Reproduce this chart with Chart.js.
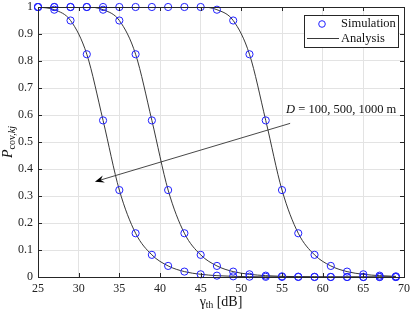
<!DOCTYPE html>
<html>
<head>
<meta charset="utf-8">
<script src="https://cdn.jsdelivr.net/npm/chart.js@4.4.1/dist/chart.umd.min.js"></script>
<style>
  html, body { margin: 0; padding: 0; background: #fff; }
  #wrap { width: 415px; height: 312px; }
</style>
</head>
<body>
<div id="wrap"><canvas id="grafica"></canvas></div>
<script>
// threshold in dB (marker positions)
const gammaDb = [25, 27, 29, 31, 33, 35, 37, 39, 41, 43, 45, 47, 49, 51, 53, 55, 57, 59, 61, 63, 65, 67, 69];

// coverage probability, D = 100 m
const p100 = [1.000, 0.990, 0.950, 0.825, 0.580, 0.322, 0.162, 0.082, 0.041, 0.020, 0.010, 0.005,
  0.0025, 0.0012, 0.0006, 0.0003, 0.0001, 0, 0, 0, 0, 0, 0];
// D = 500 m
const p500 = [1, 1, 1, 1, 0.990, 0.950, 0.825, 0.580, 0.322, 0.162, 0.082, 0.041,
  0.020, 0.010, 0.005, 0.0025, 0.0012, 0.0006, 0.0003, 0.0001, 0, 0, 0];
// D = 1000 m
const p1000 = [1, 1, 1, 1, 1, 1, 1, 1, 1, 1, 1, 0.990,
  0.950, 0.825, 0.580, 0.322, 0.162, 0.082, 0.041, 0.020, 0.010, 0.005, 0.0025];

const xTicks = [25, 30, 35, 40, 45, 50, 55, 60, 65, 70];
const yTicks = [0, 0.1, 0.2, 0.3, 0.4, 0.5, 0.6, 0.7, 0.8, 0.9, 1];

const legendLabels = ["Simulation", "Analysis"];
const noteText = "D = 100, 500, 1000 m";
// arrow, in data units: from -> to
const arrowFrom = [56.0, 0.569];
const arrowTo = [32.0, 0.353];

const serif = '"Liberation Serif", "DejaVu Serif", serif';
const blue = '#2020ff';

function pts(ys) {
  return gammaDb.map((x, i) => ({ x: x, y: ys[i] }));
}

function simSet(ys) {
  return {
    label: legendLabels[0],
    data: pts(ys),
    showLine: false,
    pointStyle: 'circle',
    pointRadius: 3.6,
    pointBorderWidth: 1,
    pointBorderColor: blue,
    pointBackgroundColor: 'rgba(0,0,0,0)',
    borderColor: blue,
    clip: 6,
    order: 0
  };
}

function anaSet(ys) {
  return {
    label: legendLabels[1],
    data: pts(ys),
    borderColor: '#222',
    borderWidth: 0.9,
    pointRadius: 0,
    cubicInterpolationMode: 'monotone',
    fill: false,
    order: 1
  };
}

// box, inside ticks, labels, legend and arrow
const extras = {
  id: 'extras',
  afterDraw(chart) {
    const ctx = chart.ctx;
    const a = chart.chartArea;
    const sx = chart.scales.x, sy = chart.scales.y;
    ctx.save();

    // ticks inside on all four sides
    ctx.strokeStyle = '#262626';
    ctx.lineWidth = 1;
    ctx.beginPath();
    xTicks.forEach(v => {
      const px = Math.round(sx.getPixelForValue(v)) + 0.5;
      ctx.moveTo(px, a.bottom); ctx.lineTo(px, a.bottom - 4);
      ctx.moveTo(px, a.top); ctx.lineTo(px, a.top + 4);
    });
    yTicks.forEach(v => {
      const py = Math.round(sy.getPixelForValue(v)) + 0.5;
      ctx.moveTo(a.left, py); ctx.lineTo(a.left + 4, py);
      ctx.moveTo(a.right, py); ctx.lineTo(a.right - 4, py);
    });
    ctx.stroke();

    // box
    ctx.strokeStyle = '#262626';
    ctx.lineWidth = 1;
    ctx.strokeRect(Math.round(a.left) + 0.5, Math.round(a.top) + 0.5,
      Math.round(a.right - a.left), Math.round(a.bottom - a.top));

    // arrow
    const x0 = sx.getPixelForValue(arrowFrom[0]), y0 = sy.getPixelForValue(arrowFrom[1]);
    const x1 = sx.getPixelForValue(arrowTo[0]), y1 = sy.getPixelForValue(arrowTo[1]);
    const ang = Math.atan2(y1 - y0, x1 - x0);
    ctx.strokeStyle = '#333';
    ctx.lineWidth = 0.9;
    ctx.beginPath();
    ctx.moveTo(x0, y0); ctx.lineTo(x1 - 6 * Math.cos(ang), y1 - 6 * Math.sin(ang));
    ctx.stroke();
    ctx.fillStyle = '#000';
    ctx.beginPath();
    ctx.moveTo(x1, y1);
    ctx.lineTo(x1 - 10 * Math.cos(ang - 0.38), y1 - 10 * Math.sin(ang - 0.38));
    ctx.lineTo(x1 - 6 * Math.cos(ang), y1 - 6 * Math.sin(ang));
    ctx.lineTo(x1 - 10 * Math.cos(ang + 0.38), y1 - 10 * Math.sin(ang + 0.38));
    ctx.closePath();
    ctx.fill();

    // annotation text
    ctx.fillStyle = '#111';
    ctx.textBaseline = 'middle';
    ctx.textAlign = 'left';
    let tx = sx.getPixelForValue(55.5);
    const ty = sy.getPixelForValue(0.618);
    ctx.font = 'italic 12.5px ' + serif;
    ctx.fillText(noteText.slice(0, 1), tx, ty);
    tx += ctx.measureText(noteText.slice(0, 1)).width;
    ctx.font = '12.5px ' + serif;
    ctx.fillText(noteText.slice(1), tx, ty);

    // legend
    const lx = 304, ly = 15, lw = 94, lh = 32;
    ctx.fillStyle = '#fff';
    ctx.fillRect(lx, ly, lw, lh);
    ctx.strokeStyle = '#262626';
    ctx.lineWidth = 1;
    ctx.strokeRect(lx + 0.5, ly + 0.5, lw, lh);
    const d0 = chart.data.datasets[0], d1 = chart.data.datasets[3];
    ctx.strokeStyle = d0.pointBorderColor;
    ctx.beginPath();
    ctx.arc(lx + 18, ly + 9, 3.3, 0, Math.PI * 2);
    ctx.stroke();
    ctx.strokeStyle = d1.borderColor;
    ctx.lineWidth = 0.9;
    ctx.beginPath();
    ctx.moveTo(lx + 3, ly + 23.5); ctx.lineTo(lx + 35, ly + 23.5);
    ctx.stroke();
    ctx.fillStyle = '#111';
    ctx.font = '12.5px ' + serif;
    ctx.textBaseline = 'middle';
    ctx.fillText(legendLabels[0], lx + 37, ly + 9);
    ctx.fillText(legendLabels[1], lx + 37, ly + 23.5);

    // axis titles
    ctx.save();
    const cx = 8, cy = (a.top + a.bottom) / 2;
    ctx.translate(cx + 4, cy);
    ctx.rotate(-Math.PI / 2);
    ctx.textBaseline = 'alphabetic';
    ctx.font = 'italic 14px ' + serif;
    const pW = ctx.measureText('P').width;
    ctx.font = '10px ' + serif;
    const s1 = 'cov,';
    const s1W = ctx.measureText(s1).width;
    ctx.font = 'italic 10px ' + serif;
    const s2W = ctx.measureText('kj').width;
    let off = -(pW + s1W + s2W) / 2;
    ctx.font = 'italic 14px ' + serif;
    ctx.fillText('P', off, 0); off += pW;
    ctx.font = '10px ' + serif;
    ctx.fillText(s1, off, 3); off += s1W;
    ctx.font = 'italic 10px ' + serif;
    ctx.fillText('kj', off, 3);
    ctx.restore();

    ctx.textBaseline = 'alphabetic';
    ctx.textAlign = 'left';
    ctx.font = '14px ' + serif;
    const gW = ctx.measureText('\u03b3').width;
    ctx.font = '9.5px ' + serif;
    const thW = ctx.measureText('th').width;
    ctx.font = '14px ' + serif;
    const rest = ' [dB]';
    const rW = ctx.measureText(rest).width;
    let gx = (a.left + a.right) / 2 - (gW + thW + rW) / 2;
    const gy = 306;
    ctx.fillText('\u03b3', gx, gy); gx += gW;
    ctx.font = '9.5px ' + serif;
    ctx.fillText('th', gx, gy + 2); gx += thW;
    ctx.font = '14px ' + serif;
    ctx.fillText(rest, gx, gy);

    ctx.restore();
  }
};

const config = {
  type: 'line',
  data: {
    datasets: [simSet(p100), simSet(p500), simSet(p1000), anaSet(p100), anaSet(p500), anaSet(p1000)]
  },
  options: {
    responsive: true,
    maintainAspectRatio: false,
    animation: false,
    layout: { padding: { top: 0, right: 9, left: 0, bottom: 0 } },
    plugins: {
      legend: { display: false },
      tooltip: { enabled: false }
    },
    scales: {
      x: {
        type: 'linear',
        min: 25, max: 70,
        afterBuildTicks: s => { s.ticks = xTicks.map(v => ({ value: v })); },
        afterFit: s => { s.height = 35; },
        grid: { color: '#e3e3e3', drawTicks: false },
        border: { color: '#262626' },
        ticks: {
          padding: 5,
          color: '#222',
          font: { family: serif, size: 12 },
          maxRotation: 0
        }
      },
      y: {
        type: 'linear',
        min: 0, max: 1,
        afterBuildTicks: s => { s.ticks = yTicks.map(v => ({ value: v })); },
        afterFit: s => { s.width = 38; s.paddingTop = 7; s.paddingBottom = 0; },
        grid: { color: '#e3e3e3', drawTicks: false },
        border: { color: '#262626' },
        ticks: {
          padding: 5,
          color: '#222',
          font: { family: serif, size: 12 },
          callback: v => String(v)
        }
      }
    }
  },
  plugins: [extras]
};

new Chart(document.getElementById('grafica'), config);
</script>
</body>
</html>
